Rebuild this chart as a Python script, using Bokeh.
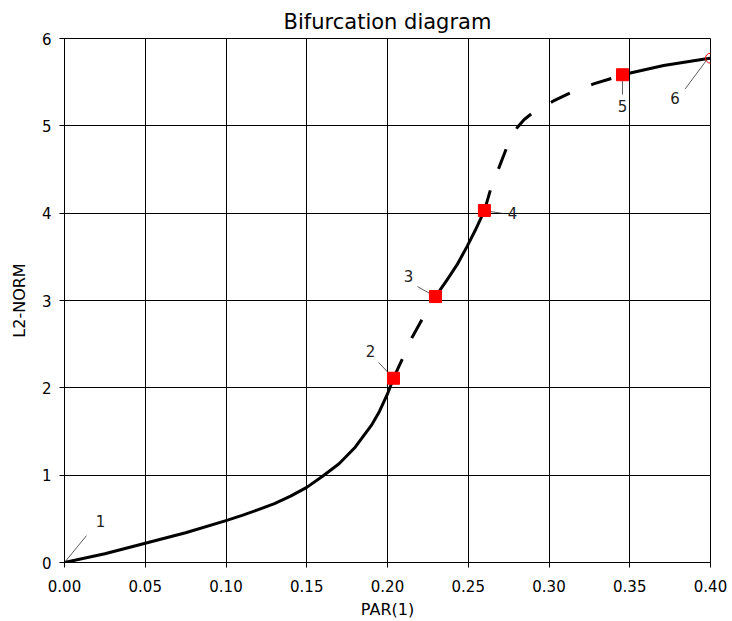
from bokeh.plotting import figure
from bokeh.models import Label, NumeralTickFormatter, FixedTicker
from bokeh.embed import file_html
from bokeh.resources import INLINE

# ---- data ----
solid1_x = [0.0, 0.025, 0.05, 0.075, 0.10, 0.11, 0.12, 0.13, 0.14, 0.15, 0.16, 0.17,
            0.18, 0.19, 0.195, 0.20, 0.2037]
solid1_y = [0.0, 0.10, 0.22, 0.34, 0.48, 0.54, 0.605, 0.675, 0.76, 0.86, 0.99, 1.13,
            1.32, 1.57, 1.73, 1.93, 2.11]
dashed1_x = [0.2037, 0.2097, 0.2153, 0.2219, 0.2297]
dashed1_y = [2.11, 2.35, 2.58, 2.80, 3.045]
solid2_x = [0.2297, 0.237, 0.2431, 0.2493, 0.2545, 0.2600]
solid2_y = [3.045, 3.24, 3.41, 3.62, 3.81, 4.03]
dashed2_x = [0.2600, 0.2638, 0.2737, 0.2770, 0.2805, 0.2845, 0.2904, 0.3028, 0.3146,
             0.3276, 0.3418, 0.3455]
dashed2_y = [4.03, 4.27, 4.745, 4.875, 4.985, 5.07, 5.156, 5.285, 5.39,
             5.48, 5.56, 5.585]
solid3_x = [0.3455, 0.371, 0.3985, 0.40]
solid3_y = [5.585, 5.69, 5.77, 5.775]

label_text = ["1", "2", "3", "4", "5", "6"]
label_x = [0.0, 0.2037, 0.2297, 0.2600, 0.3455, 0.3985]
label_y = [0.0, 2.11, 3.045, 4.03, 5.585, 5.775]
square_idx = [1, 2, 3, 4]

x_ticks = [0.0, 0.05, 0.10, 0.15, 0.20, 0.25, 0.30, 0.35, 0.40]
y_ticks = [0, 1, 2, 3, 4, 5, 6]

FONT = "DejaVu Sans"

p = figure(width=730, height=621, x_range=(0, 0.4), y_range=(0, 6),
           output_backend="svg", toolbar_location=None,
           title="Bifurcation diagram")
p.min_border_left = 64
p.min_border_right = 20
p.min_border_top = 38
p.min_border_bottom = 57
p.background_fill_color = "white"
p.border_fill_color = "white"
p.outline_line_color = "black"
p.outline_line_width = 1
p.outline_line_alpha = 1

p.title.align = "center"
p.title.text_font = FONT
p.title.text_font_size = "21px"
p.title.text_font_style = "normal"
p.title.text_color = "black"
p.title.standoff = 10

for ax in (p.xaxis[0], p.yaxis[0]):
    ax.major_label_text_font = FONT
    ax.major_label_text_font_size = "15px"
    ax.major_label_text_color = "black"
    ax.axis_label_text_font = FONT
    ax.axis_label_text_font_size = "16px"
    ax.axis_label_text_font_style = "normal"
    ax.axis_label_text_color = "black"
    ax.major_tick_in = 0
    ax.major_tick_out = 5
    ax.minor_tick_in = 0
    ax.minor_tick_out = 0
    ax.axis_line_color = "black"
    ax.major_tick_line_color = "black"

p.xaxis.ticker = FixedTicker(ticks=x_ticks)
p.yaxis.ticker = FixedTicker(ticks=y_ticks)
p.xaxis.formatter = NumeralTickFormatter(format="0.00")
p.xaxis.axis_label = "PAR(1)"
p.yaxis.axis_label = "L2-NORM"
p.xaxis.major_label_standoff = 12
p.yaxis.major_label_standoff = 8
p.xaxis.axis_label_standoff = 5
p.yaxis.axis_label_standoff = 10

p.xgrid.grid_line_color = "black"
p.ygrid.grid_line_color = "black"
p.xgrid.grid_line_alpha = 1
p.ygrid.grid_line_alpha = 1
p.xgrid.grid_line_width = 1
p.ygrid.grid_line_width = 1

# branch
p.line(solid1_x, solid1_y, line_color="black", line_width=3, line_join="round")
p.line(dashed1_x, dashed1_y, line_color="black", line_width=3, line_dash="21 23")
p.line(solid2_x, solid2_y, line_color="black", line_width=3, line_join="round")
p.line(dashed2_x, dashed2_y, line_color="black", line_width=3, line_dash="21 23")
p.line(solid3_x, solid3_y, line_color="black", line_width=3, line_join="round")

# label leader lines (pixel offsets converted to data units)
dxp = 0.4 / 646.0
dyp = 6.0 / 526.0
line_off = [(22, -27), (-15, -16), (-18, -10), (19, 3), (0, 20), (-23, 31)]
text_off = [(36, -42), (-23, -27), (-27, -21), (28, 2), (0, 31), (-33, 40)]
x0s, y0s, x1s, y1s = [], [], [], []
for i in range(len(label_text)):
    ox, oy = line_off[i]
    x0s.append(label_x[i]); y0s.append(label_y[i])
    x1s.append(label_x[i] + ox * dxp); y1s.append(label_y[i] - oy * dyp)
p.segment(x0s, y0s, x1s, y1s, line_color="#333333", line_width=0.8)

# special points
p.scatter([label_x[i] for i in square_idx], [label_y[i] for i in square_idx],
          marker="square", size=12, fill_color="red", line_color="red")
p.scatter([0.4], [label_y[5]], marker="circle", size=10, fill_color=None,
          line_color="red", line_width=1)

for i, t in enumerate(label_text):
    ox, oy = text_off[i]
    p.add_layout(Label(x=label_x[i], y=label_y[i], x_offset=ox, y_offset=-oy,
                       text=t, text_align="center", text_baseline="middle",
                       text_font=FONT, text_font_size="15px", text_color="#222222"))

open("out.html", "w").write(file_html(p, INLINE))
